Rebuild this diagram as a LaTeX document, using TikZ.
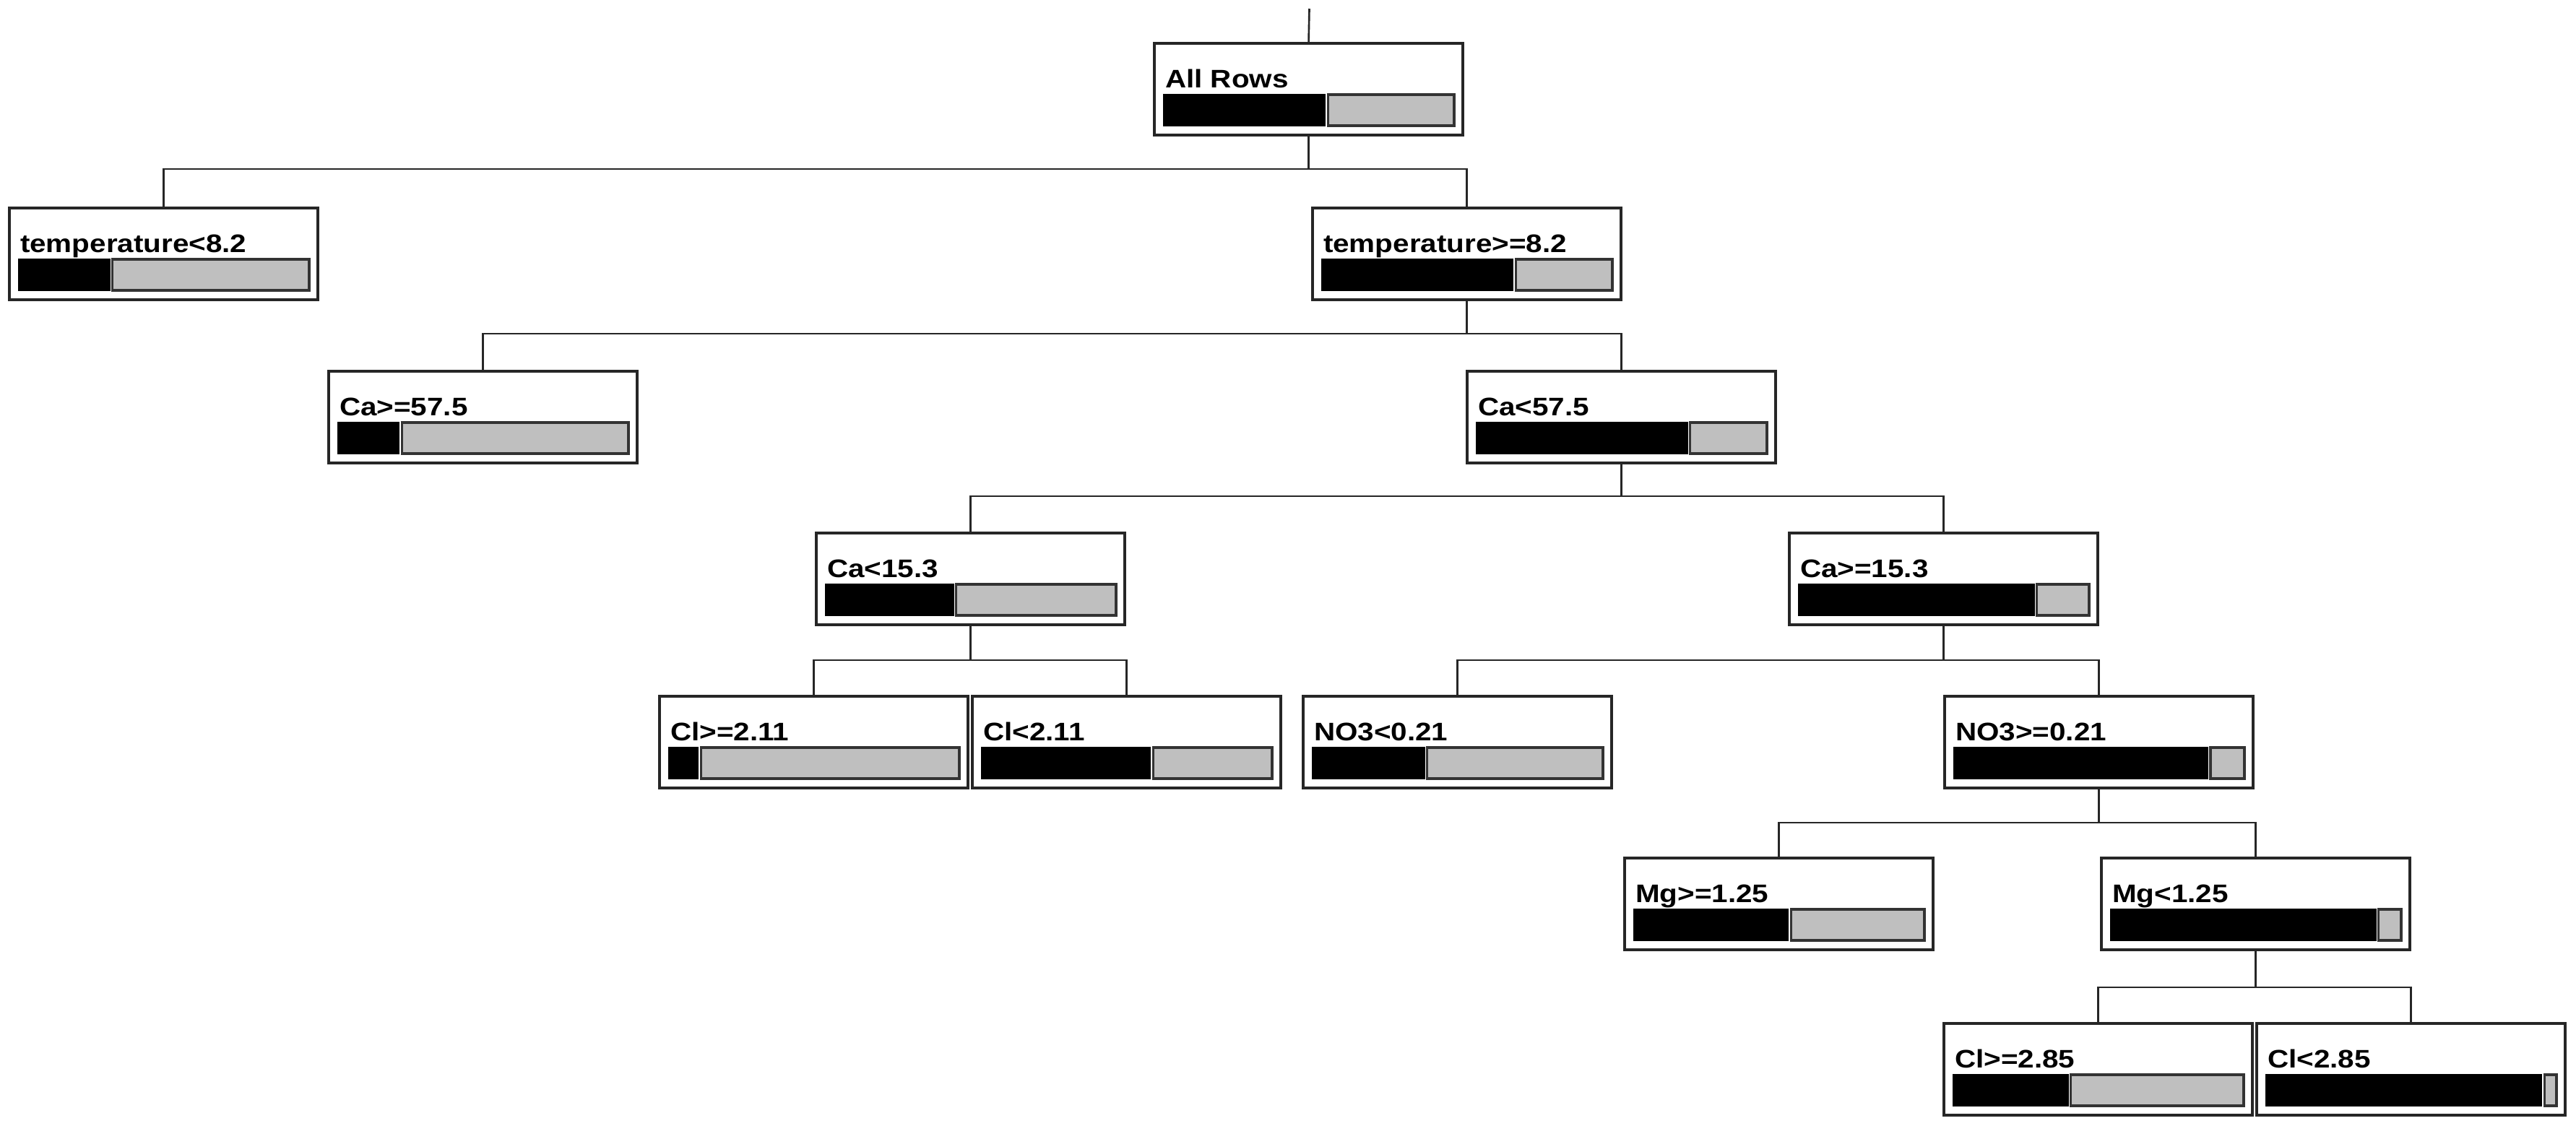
\documentclass[tikz,border=0pt]{standalone}
\usepackage{fontspec}
\newfontfamily\labfont[FakeStretch=1.15]{Liberation Sans}
\usetikzlibrary{calc}
\tikzset{
  treebox/.style={draw=black!85, line width=0.9pt, fill=white, rectangle,
    minimum width=4.27cm, minimum height=1.27cm, inner sep=0pt, outer sep=0pt, anchor=north west},
  link/.style={draw=black!85, line width=0.75pt},
  lbl/.style={anchor=base west, inner sep=0pt, outer sep=0pt,
    font=\labfont\fontsize{10pt}{12pt}\selectfont\bfseries},
  yesbar/.style={fill=black, draw=black, line width=0.5pt},
  nobar/.style={fill=gray!50, draw=black!80, line width=0.9pt},
}
\begin{document}
\begin{tikzpicture}
\useasboundingbox[fill=white] (0,0) rectangle (35.66,-15.58);
\foreach \nm/\x/\y/\f/\t in {
  root/15.98/0.60/0.556/All Rows,
  t1/0.13/2.88/0.313/temperature<8.2,
  t2/18.17/2.88/0.657/temperature>=8.2,
  c1/4.55/5.14/0.21/Ca>=57.5,
  c2/20.31/5.14/0.726/Ca<57.5,
  c3/11.30/7.38/0.44/Ca<15.3,
  c4/24.77/7.38/0.81/Ca>=15.3,
  l1/9.13/9.64/0.10/Cl>=2.11,
  l2/13.46/9.64/0.58/Cl<2.11,
  n1/18.04/9.64/0.385/NO3<0.21,
  n2/26.92/9.64/0.873/NO3>=0.21,
  m1/22.49/11.88/0.53/Mg>=1.25,
  m2/29.09/11.88/0.912/Mg<1.25,
  k1/26.91/14.17/0.395/Cl>=2.85,
  k2/31.24/14.17/0.948/Cl<2.85}
{
  \node[treebox] (\nm) at (\x,-\y) {};
  \node[lbl] (\nm-t) at ($(\nm.north west)+(0.15,-0.61)$) {\t};
  \fill[yesbar] ($(\nm.north west)+(0.13,-0.71)$) rectangle ($(\nm.north west)+({0.13+\f*4.02},-1.14)$);
  \draw[nobar] ($(\nm.north west)+({0.17+\f*4.02},-0.71)$) rectangle ($(\nm.north west)+(4.15,-1.14)$);
}
\coordinate (top) at (18.125,-0.12);
\draw[link] (root.north) -- (top);
\foreach \p/\a/\b/\yy in {root/t1/t2/2.34, t2/c1/c2/4.62, c2/c3/c4/6.87,
  c3/l1/l2/9.14, c4/n1/n2/9.14, n2/m1/m2/11.39, m2/k1/k2/13.67}
{
  \path (0,-\yy) coordinate (h-\p);
  \coordinate (j-\p) at (\p.south |- h-\p);
  \draw[link] (\p.south) -- (j-\p);
  \draw[link] (\a.north) |- (j-\p) -| (\b.north);
}
\end{tikzpicture}
\end{document}
